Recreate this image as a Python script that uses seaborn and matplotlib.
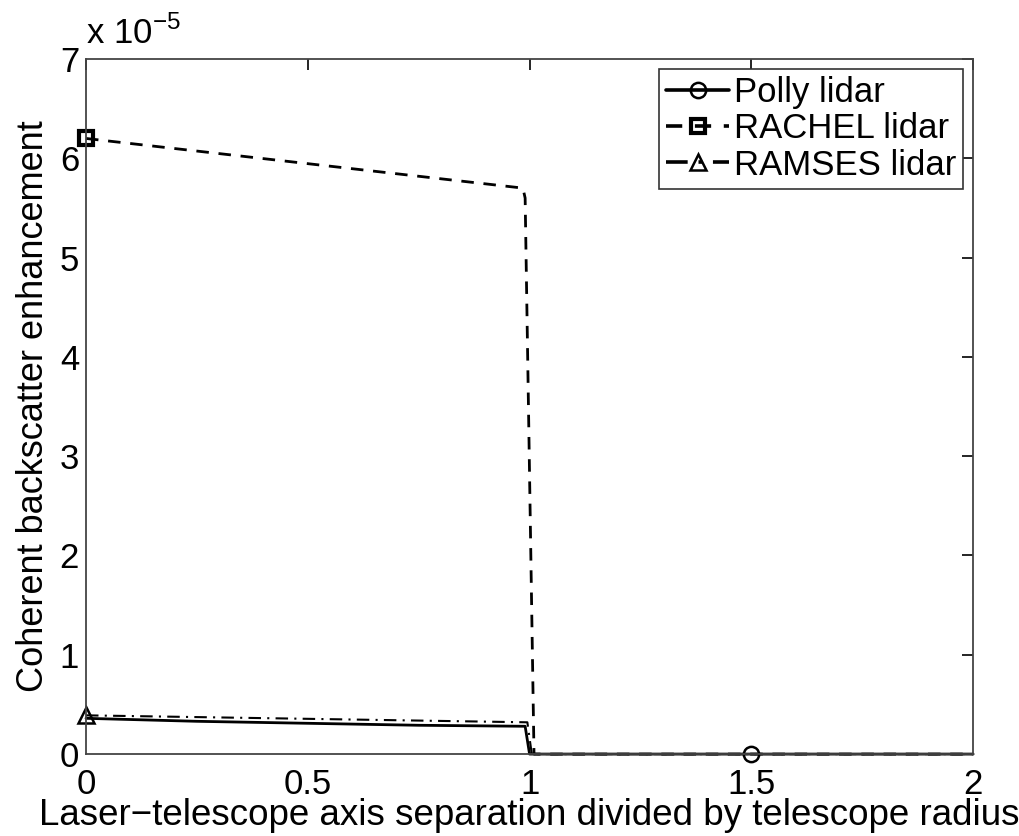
import matplotlib
matplotlib.use("Agg")
import matplotlib.pyplot as plt
import seaborn as sns
import pandas as pd
from matplotlib.ticker import FuncFormatter

# Data (y values in absolute units)
polly_x = [0.0, 0.25, 0.5, 0.75, 0.99, 1.0, 1.5, 2.0]
polly_y = [0.36e-5, 0.33e-5, 0.31e-5, 0.29e-5, 0.28e-5, 0.0, 0.0, 0.0]

rachel_x = [0.0, 0.985, 0.99, 1.01, 1.5, 2.0]
rachel_y = [6.2e-5, 5.7e-5, 5.6e-5, 0.0, 0.0, 0.0]

ramses_x = [0.0, 0.5, 0.995, 1.005, 1.5, 2.0]
ramses_y = [0.39e-5, 0.355e-5, 0.32e-5, 0.0, 0.0, 0.0]

x_ticks = [0, 0.5, 1, 1.5, 2]
y_ticks = [0, 1e-5, 2e-5, 3e-5, 4e-5, 5e-5, 6e-5, 7e-5]

sns.set_theme(style="white")
plt.rcParams['font.family'] = ['Liberation Sans', 'DejaVu Sans']
plt.rcParams['mathtext.fontset'] = 'custom'
plt.rcParams['mathtext.rm'] = 'Liberation Sans'

fig = plt.figure(figsize=(10.19, 8.36), dpi=100)
ax = fig.add_axes([0.0844, 0.098, 0.8706, 0.8314])

df_p = pd.DataFrame({"x": polly_x, "y": polly_y})
df_r = pd.DataFrame({"x": rachel_x, "y": rachel_y})
df_m = pd.DataFrame({"x": ramses_x, "y": ramses_y})

sns.lineplot(data=df_p, x="x", y="y", ax=ax, color="black", lw=2.0,
             linestyle="-", marker="o", markersize=11, markerfacecolor="none",
             markeredgecolor="black", markeredgewidth=1.8, markevery=[6],
             label="Polly lidar", sort=False, estimator=None, clip_on=False)
sns.lineplot(data=df_r, x="x", y="y", ax=ax, color="black", lw=2.0,
             linestyle=(0, (4.5, 3.5)), marker="s", markersize=10,
             markerfacecolor="none", markeredgecolor="black", markeredgewidth=3.0,
             markevery=[0], label="RACHEL lidar", sort=False, estimator=None,
             clip_on=False)
sns.lineplot(data=df_m, x="x", y="y", ax=ax, color="black", lw=1.5,
             linestyle=(0, (6, 3, 1, 3)), marker="^", markersize=12,
             markerfacecolor="none", markeredgecolor="black", markeredgewidth=1.8,
             markevery=[0], label="RAMSES lidar", sort=False, estimator=None,
             clip_on=False)

ax.set_xlim(0, 2)
ax.set_ylim(0, 7e-5)
ax.set_xticks(x_ticks)
ax.set_yticks(y_ticks)
ax.xaxis.set_major_formatter(FuncFormatter(lambda v, p: f"{v:g}"))
ax.yaxis.set_major_formatter(FuncFormatter(lambda v, p: f"{v/1e-5:g}"))
ax.tick_params(direction="in", length=8, width=1.2, top=True, right=True,
               labelsize=25, colors="black")
ax.tick_params(axis="x", pad=10)
ax.tick_params(axis="y", pad=5)
for s in ax.spines.values():
    s.set_visible(True)
    s.set_color("#444444")
    s.set_linewidth(1.3)

ax.set_xlabel("Laser\u2212telescope axis separation divided by telescope radius",
              fontsize=26.5, color="black", labelpad=-2)
ax.set_ylabel("Coherent backscatter enhancement", fontsize=26, color="black",
              labelpad=6)
ax.text(0.0, 1.012, "x 10$^{-5}$", transform=ax.transAxes, fontsize=25,
        ha="left", va="bottom", color="black")

leg = ax.legend(loc="upper right", fontsize=25, frameon=True, fancybox=False,
                edgecolor="#333333", handlelength=1.8, handletextpad=0.15,
                borderpad=0.2, labelspacing=0.1, borderaxespad=0.28,
                framealpha=1)
leg.get_frame().set_linewidth(1.2)
for t in leg.get_texts():
    t.set_color("black")
for ln in leg.get_lines():
    ln.set_linewidth(2.6)

fig.savefig("out.png", dpi=100)
